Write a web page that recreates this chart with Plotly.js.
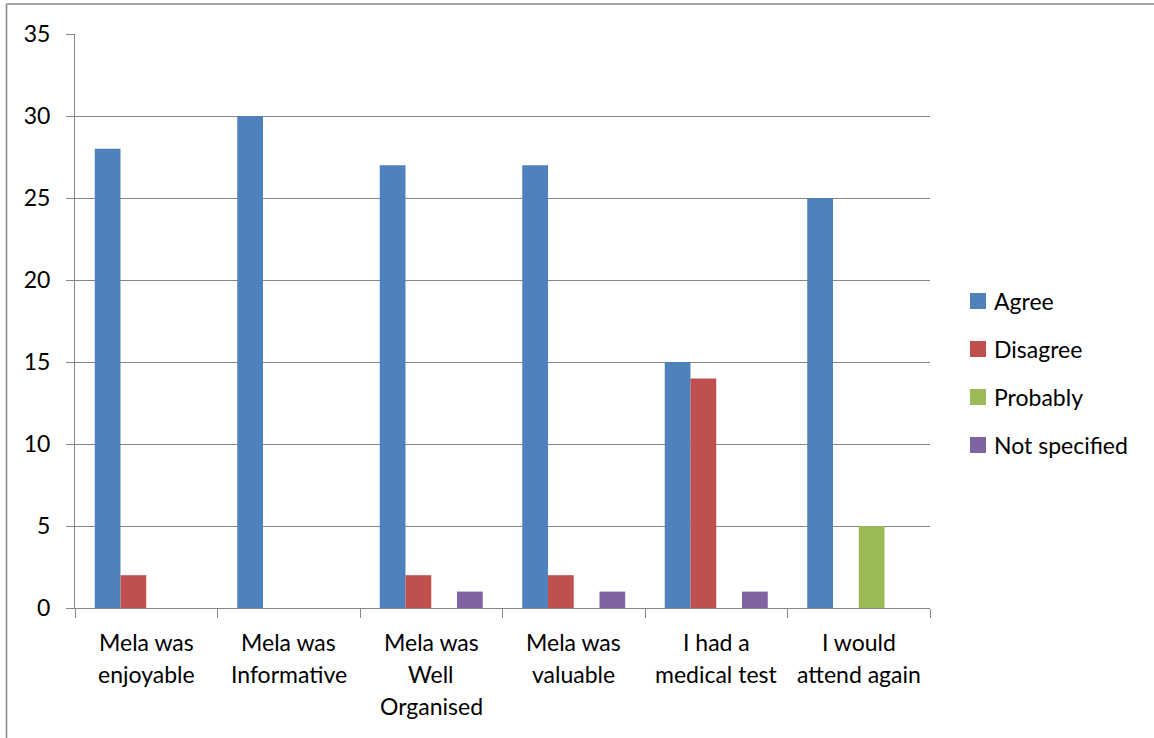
<!DOCTYPE html>
<html>
<head>
<meta charset="utf-8">
<script src="https://cdn.plot.ly/plotly-3.0.1.min.js"></script>
<style>
  html, body { margin: 0; padding: 0; background: #ffffff; overflow: hidden; }
  #chart { width: 1154px; height: 738px; }
</style>
</head>
<body>
<div id="chart"></div>
<script>
// Survey responses per statement
const categories = [
  "Mela was<br>enjoyable",
  "Mela was<br>Informative",
  "Mela was<br>Well<br>Organised",
  "Mela was<br>valuable",
  "I had a<br>medical test",
  "I would<br>attend again"
];
const agree        = [28, 30, 27, 27, 15, 25];
const disagree     = [2, 0, 2, 2, 14, 0];
const probably     = [0, 0, 0, 0, 0, 5];
const notSpecified = [0, 0, 1, 1, 1, 0];

const seriesNames  = ["Agree", "Disagree", "Probably", "Not specified"];
const seriesValues = [agree, disagree, probably, notSpecified];
const seriesColors = ["#4F81BD", "#C0504D", "#9BBB59", "#8064A2"];

const FONT = "Lato, 'Open Sans', sans-serif";
const FS = 23;
const GRID = "#868686";

const W = 1154, H = 738;
const mL = 75, mR = 224, mT = 34, mB = 130;
const pw = W - mL - mR, ph = H - mT - mB;
const px = v => (v - mL) / pw;          // page x -> paper x
const py = v => 1 - (v - mT) / ph;      // page y -> paper y

const traces = seriesNames.map((name, i) => ({
  type: "bar",
  name: name,
  x: categories,
  y: seriesValues[i],
  marker: { color: seriesColors[i], line: { width: 0 } },
  showlegend: false,
  hoverinfo: "x+y+name"
}));

const annotations = [];
const shapes = [];

// Multi-line category labels, one annotation per text line
categories.forEach(cat => {
  cat.split("<br>").forEach((line, j) => {
    annotations.push({
      x: cat, y: 0, xref: "x", yref: "y",
      text: line, showarrow: false,
      xanchor: "center", yanchor: "middle",
      yshift: -34 - 32 * j,
      font: { family: FONT, size: FS, color: "#000000" }
    });
  });
});

// Legend: colour square + series name
const legTop = 301, legStep = 48, legSq = 16, legX = 970;
seriesNames.forEach((name, i) => {
  const cy = legTop + legStep * i;
  shapes.push({
    type: "rect", xref: "paper", yref: "paper",
    x0: px(legX), x1: px(legX + legSq),
    y0: py(cy - legSq / 2), y1: py(cy + legSq / 2),
    fillcolor: seriesColors[i], line: { width: 0 }
  });
  annotations.push({
    xref: "paper", yref: "paper",
    x: px(legX + legSq + 6), y: py(cy),
    xanchor: "left", yanchor: "middle",
    text: name, showarrow: false,
    font: { family: FONT, size: FS, color: "#000000" }
  });
});

// Outer frame of the chart area (left and top edges)
shapes.push(
  { type: "line", xref: "paper", yref: "paper", x0: px(6.5), x1: px(6.5), y0: py(4), y1: py(H + 10),
    line: { color: GRID, width: 1.5 } },
  { type: "line", xref: "paper", yref: "paper", x0: px(6.5), x1: px(W + 10), y0: py(4), y1: py(4),
    line: { color: GRID, width: 1.5 } }
);

const layout = {
  width: W, height: H,
  margin: { l: mL, r: mR, t: mT, b: mB, pad: 0 },
  paper_bgcolor: "#ffffff",
  plot_bgcolor: "#ffffff",
  barmode: "group",
  bargap: 0.277,
  bargroupgap: 0,
  showlegend: false,
  font: { family: FONT, size: FS, color: "#000000" },
  xaxis: {
    type: "category",
    showticklabels: false,
    showline: true, linecolor: GRID, linewidth: 1,
    ticks: "outside", ticklen: 9, tickcolor: GRID, tickwidth: 1,
    tickson: "boundaries",
    showgrid: false, zeroline: false, fixedrange: true
  },
  yaxis: {
    range: [0, 35], dtick: 5, tick0: 0,
    showline: true, linecolor: GRID, linewidth: 1,
    ticks: "outside", ticklen: 8, tickcolor: GRID, tickwidth: 1,
    ticklabelstandoff: 11,
    showgrid: true, gridcolor: GRID, gridwidth: 1,
    zeroline: false, fixedrange: true,
    tickfont: { family: FONT, size: FS, color: "#000000" }
  },
  annotations: annotations,
  shapes: shapes
};

Plotly.newPlot("chart", traces, layout, { displayModeBar: false, staticPlot: true });
</script>
</body>
</html>
